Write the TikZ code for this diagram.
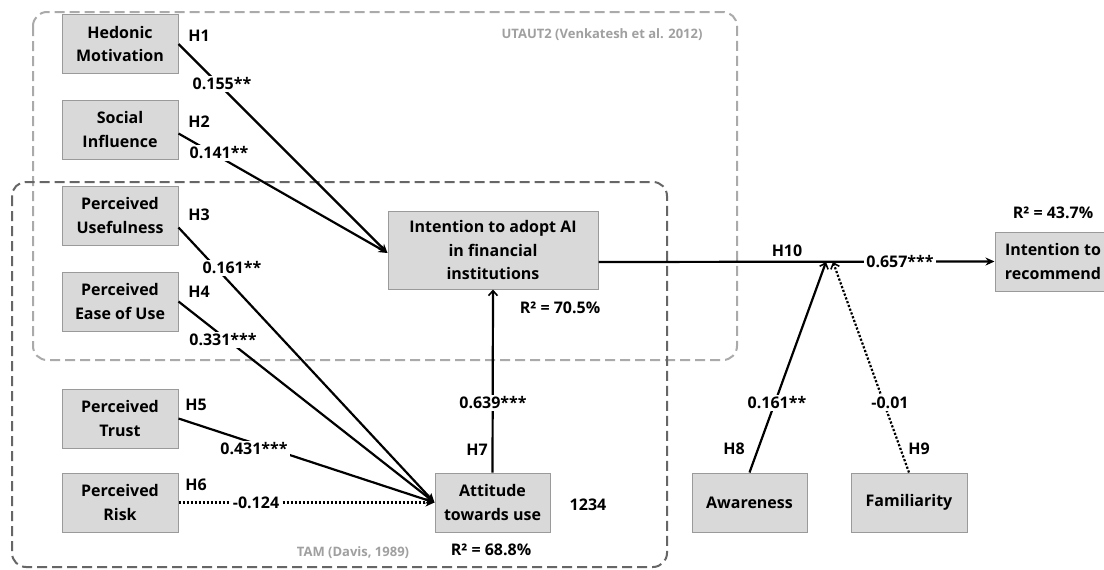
\documentclass[tikz,border=0pt]{standalone}
\usepackage{fontspec}
\setmainfont{Open Sans}
\usetikzlibrary{arrows.meta}
\definecolor{boxfill}{HTML}{D9D9D9}
\definecolor{boxline}{HTML}{9A9A9A}
\definecolor{utcol}{HTML}{AAAAAA}
\definecolor{tamcol}{HTML}{666666}
\definecolor{notecol}{HTML}{A0A0A0}
\tikzset{
  var/.style={draw=boxline, fill=boxfill, line width=1pt, minimum width=116pt, minimum height=59pt, align=center, inner sep=0pt},
  conn/.style={line width=2.2pt, black},
  tipS/.style={-{Stealth[length=9pt,width=8pt]}},
  tipB/.style={-{Straight Barb[length=5pt,width=9pt,line width=1.6pt]}},
  dots/.style={dash pattern=on 2.2pt off 1.8pt},
  coef/.style={fill=white, inner sep=2pt},
  hyp/.style={inner sep=1pt},
  frameU/.style={draw=utcol, line width=2pt, dash pattern=on 10pt off 5pt, rounded corners=14pt},
  frameT/.style={draw=tamcol, line width=2pt, dash pattern=on 10pt off 5pt, rounded corners=14pt},
  note/.style={text=notecol, font=\fontsize{13}{15}\selectfont\bfseries}
}
\begin{document}
\begin{tikzpicture}[x=1pt,y=-1pt, font=\fontsize{16}{23.5}\selectfont\bfseries]
\useasboundingbox[fill=white] (0,0) rectangle (1104,570);
% frames
\draw[frameU] (33,12) rectangle (737,360);
\draw[frameT] (12,182) rectangle (667,567);
\node[note, anchor=east] (utl) at (706,35) {UTAUT2 (Venkatesh et al. 2012)};
\node[note] (taml) at (353,553) {TAM (Davis, 1989)};
% variables
\node[var] (hm) at (120,44) {Hedonic\\Motivation};
\node[var] (si) at (120,129.5) {Social\\Influence};
\node[var] (pu) at (120,215.5) {Perceived\\Usefulness};
\node[var] (pe) at (120,301.5) {Perceived\\Ease of Use};
\node[var] (pt) at (120,418.5) {Perceived\\Trust};
\node[var] (pr) at (120,502.5) {Perceived\\Risk};
\node[var, minimum width=210pt, minimum height=78pt] (ia) at (493,250) {Intention to adopt AI\\in financial\\institutions};
\node[var, minimum width=115pt] (at) at (492.5,502.5) {Attitude\\towards use};
\node[var, minimum width=115pt] (aw) at (749.5,502.5) {Awareness};
\node[var] (fa) at (909,502.5) {Familiarity};
\node[var, minimum width=116pt] (ir) at (1053,261.5) {Intention to\\recommend};
% connectors
\coordinate (m8) at (826,262);
\coordinate (m9) at (833,262);
\draw[conn, tipS] (hm.east) -- ([yshift=-3pt]ia.west);
\draw[conn, tipS] ([yshift=-4pt]si.east) -- ([yshift=-3pt]ia.west);
\draw[conn, tipS] ([yshift=-12pt]pu.east) -- (at.west);
\draw[conn, tipS] (pe.east) -- (at.west);
\draw[conn, tipS] (pt.east) -- (at.west);
\draw[conn, dots, tipS] (pr.east) -- (at.west);
\draw[conn, tipB] (at.north) -- (ia.south);
\draw[conn, tipS] ([yshift=-12pt]ia.east) -- (ir.west);
\draw[conn, tipB] (aw.north) -- (m8);
\draw[conn, dots, tipB] (fa.north) -- (m9);
% coefficients
\node[coef] (c1) at (222,84) {0.155**};
\node[coef] (c2) at (219,153) {0.141**};
\node[coef] (c3) at (232,268) {0.161**};
\node[coef] (c4) at (223,340) {0.331***};
\node[coef] (c5) at (254,449) {0.431***};
\node[coef] (c6) at (256,503) {-0.124};
\node[coef] (c7) at (493,403) {0.639***};
\node[coef] (c10) at (900,262) {0.657***};
\node[coef] (c8) at (777,403) {0.161**};
\node[coef] (c9) at (890,403) {-0.01};
% hypotheses
\node[hyp] (h1) at (199,36) {H1};
\node[hyp] (h2) at (199,122) {H2};
\node[hyp] (h3) at (199,215) {H3};
\node[hyp] (h4) at (199,292) {H4};
\node[hyp] (h5) at (196,405) {H5};
\node[hyp] (h6) at (196,485) {H6};
\node[hyp] (h7) at (477,450) {H7};
\node[hyp] (h8) at (734,449) {H8};
\node[hyp] (h9) at (919,449) {H9};
\node[hyp] (h10) at (787,251) {H10};
% r squared and other text
\node (r1) at (560,308) {R² = 70.5\%};
\node (r2) at (491,550) {R² = 68.8\%};
\node (r3) at (1053,213) {R² = 43.7\%};
\node (n1234) at (588,505) {1234};
\end{tikzpicture}
\end{document}
